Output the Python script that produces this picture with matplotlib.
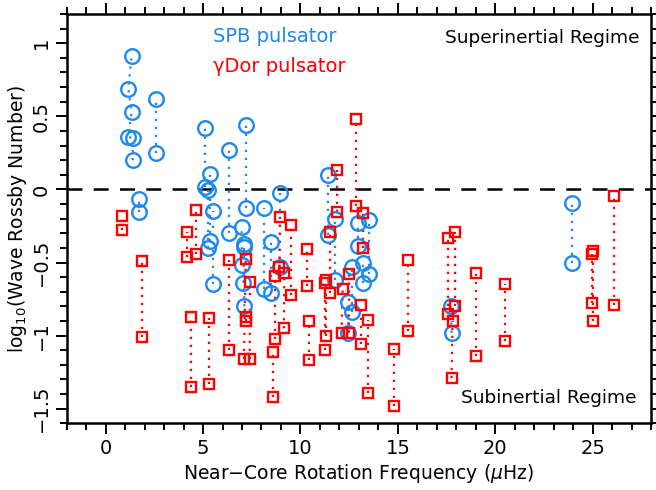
import matplotlib
matplotlib.use("Agg")
import matplotlib.pyplot as plt
from matplotlib.ticker import MultipleLocator

# SPB pulsators (blue circles); points sharing a star id are joined by dotted lines
spb_x = [1.33, 1.16, 1.33, 1.16, 1.42, 1.38,
         1.71, 1.71, 2.58, 2.58,
         5.11, 5.11, 5.23, 5.23, 5.35, 5.35, 5.49, 5.49,
         6.33, 6.33, 7.20, 7.20, 6.98, 7.00, 7.10, 7.07, 7.10, 7.12,
         8.14, 8.14, 8.47, 8.47, 8.95, 8.95,
         11.43, 11.43, 11.77, 11.77, 12.97, 12.97, 13.52, 13.52,
         12.63, 12.63, 13.22, 13.22, 12.42, 12.45,
         17.71, 17.76, 23.95, 23.95]
spb_y = [0.91, 0.69, 0.53, 0.36, 0.35, 0.20,
         -0.068, -0.155, 0.62, 0.25,
         0.42, 0.016, -0.002, -0.40, 0.107, -0.35, -0.149, -0.65,
         0.27, -0.30, 0.44, -0.13, -0.26, -0.52, -0.37, -0.64, -0.395, -0.80,
         -0.128, -0.68, -0.36, -0.71, -0.025, -0.53,
         0.096, -0.31, -0.205, -0.62, -0.23, -0.39, -0.21, -0.58,
         -0.53, -0.84, -0.50, -0.64, -0.77, -0.98,
         -0.80, -0.98, -0.094, -0.50]
spb_id = [1, 1, 1, 1, 1, 1,
          2, 2, 3, 3,
          4, 4, 5, 5, 6, 6, 7, 7,
          8, 8, 9, 9, 10, 10, 11, 11, 12, 12,
          13, 13, 14, 14, 15, 15,
          16, 16, 17, 17, 18, 18, 19, 19,
          20, 20, 21, 21, 22, 22,
          23, 23, 24, 24]

# gamma Dor pulsators (red squares)
gdor_x = [0.82, 0.82, 1.86, 1.86, 4.19, 4.19, 4.64, 4.64, 4.36, 4.36,
          5.32, 5.32, 6.35, 6.35, 7.19, 7.10, 7.41, 7.40, 7.19, 7.19,
          8.95, 8.91, 9.50, 9.50, 8.69, 8.69, 9.17, 9.15, 8.57, 8.57,
          10.32, 10.32, 10.44, 10.44, 11.31, 11.31, 11.26, 11.26,
          11.86, 11.86, 11.51, 11.51, 12.85, 12.85, 13.22, 13.22,
          12.50, 12.49, 12.17, 12.11, 13.09, 13.09, 13.45, 13.45,
          14.82, 14.82, 15.53, 15.53, 17.59, 17.59, 17.93, 17.93,
          17.81, 17.76, 19.00, 19.00, 20.50, 20.50,
          24.95, 24.95, 25.00, 25.00, 26.10, 26.10]
gdor_y = [-0.18, -0.28, -0.49, -1.01, -0.29, -0.46, -0.14, -0.445, -0.87, -1.35,
          -0.88, -1.33, -0.48, -1.10, -0.475, -1.16, -0.63, -1.16, -0.87, -0.90,
          -0.19, -0.53, -0.24, -0.72, -0.59, -1.02, -0.57, -0.95, -1.11, -1.42,
          -0.41, -0.66, -0.90, -1.17, -0.62, -1.00, -0.64, -1.10,
          0.13, -0.157, -0.29, -0.71, 0.48, -0.116, -0.16, -0.40,
          -0.58, -0.98, -0.68, -0.98, -0.79, -1.06, -0.89, -1.39,
          -1.09, -1.48, -0.48, -0.97, -0.33, -0.85, -0.29, -0.80,
          -0.90, -1.29, -0.57, -1.14, -0.65, -1.04,
          -0.44, -0.78, -0.42, -0.90, -0.046, -0.79]
gdor_id = [i // 2 for i in range(len(gdor_x))]

blue = "#1e88f0"
red = "#ff0000"


def draw(ax, xs, ys, ids, color, marker, ms):
    groups = {}
    for x, y, g in zip(xs, ys, ids):
        groups.setdefault(g, []).append((x, y))
    for pts in groups.values():
        pts = sorted(pts, key=lambda p: p[1])
        ax.plot([p[0] for p in pts], [p[1] for p in pts], color=color,
                linestyle=(0, (1, 2.6)), linewidth=1.6, zorder=2)
    ax.plot(xs, ys, linestyle="none", marker=marker, markersize=ms,
            markerfacecolor="none", markeredgecolor=color,
            markeredgewidth=1.7, zorder=3)


fig = plt.figure(figsize=(6.56, 4.9), dpi=100)
ax = fig.add_axes([0.1017, 0.1361, 0.8907, 0.8353])

ax.axhline(0, color="black", linestyle=(0, (6, 4.5)), linewidth=1.8, zorder=1)
draw(ax, spb_x, spb_y, spb_id, blue, "o", 10.5)
draw(ax, gdor_x, gdor_y, gdor_id, red, "s", 7.5)

ax.set_xlim(-2, 28)
ax.set_ylim(-1.6, 1.2)
ax.xaxis.set_major_locator(MultipleLocator(5))
ax.xaxis.set_minor_locator(MultipleLocator(1))
ax.yaxis.set_major_locator(MultipleLocator(0.5))
ax.yaxis.set_minor_locator(MultipleLocator(0.1))
ax.tick_params(which="both", direction="out", top=True, right=True,
               width=1.4, labelsize=14)
ax.tick_params(which="major", length=8)
ax.tick_params(which="minor", length=5)
ax.set_yticks([-1.5, -1, -0.5, 0, 0.5, 1])
ax.set_yticklabels(["\u22121.5", "\u22121", "\u22120.5", "0", "0.5", "1"],
                   rotation=90, va="center")
for s in ax.spines.values():
    s.set_linewidth(1.8)

ax.set_xlabel("Near\u2212Core Rotation Frequency ($\\mu$Hz)", fontsize=13.5, labelpad=3)
ax.set_ylabel("log$_{10}$(Wave Rossby Number)", fontsize=13.5, labelpad=2)

ax.text(0.250, 0.945, "SPB pulsator", color=blue, fontsize=14,
        transform=ax.transAxes, ha="left", va="center")
ax.text(0.250, 0.871, "\u03b3Dor pulsator", color=red, fontsize=14,
        transform=ax.transAxes, ha="left", va="center")
ax.text(0.981, 0.941, "Superinertial Regime", color="black", fontsize=13.3,
        transform=ax.transAxes, ha="right", va="center")
ax.text(0.976, 0.062, "Subinertial Regime", color="black", fontsize=13.3,
        transform=ax.transAxes, ha="right", va="center")

fig.savefig("out.png", dpi=100)
